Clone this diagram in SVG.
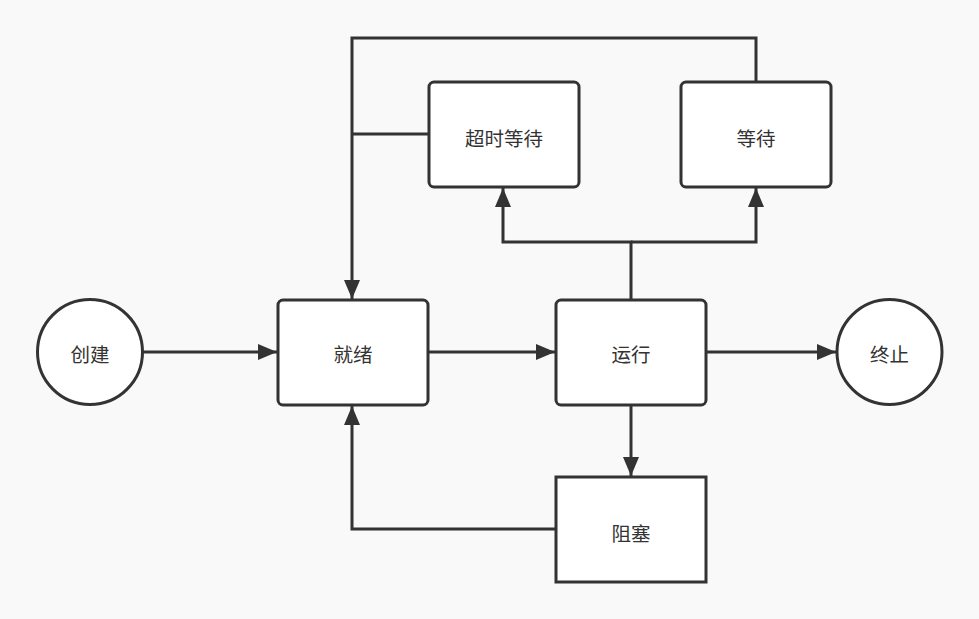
<svg xmlns="http://www.w3.org/2000/svg" width="979" height="619" viewBox="0 0 979 619">
<style>
.node{fill:#ffffff;stroke:#333333;stroke-width:3}
.lbl{font-family:"Noto Sans CJK SC","Noto Sans",sans-serif;font-size:19.5px;fill:#333333;text-anchor:middle;dominant-baseline:central}
.edge{fill:none;stroke:#333333;stroke-width:3}
</style>
<defs>
<marker id="arr" markerUnits="userSpaceOnUse" markerWidth="20" markerHeight="16" refX="19" refY="8" orient="auto" viewBox="0 0 20 16">
<path d="M0,0 L19,8 L0,16 Z" fill="#333333"/>
</marker>
</defs>
<rect width="979" height="619" fill="#f9f9f9"/>
<g id="connectors">
<path class="edge" d="M143,352 H277" marker-end="url(#arr)"/>
<path class="edge" d="M428,352 H555" marker-end="url(#arr)"/>
<path class="edge" d="M706,352 H836" marker-end="url(#arr)"/>
<path class="edge" d="M631,405 V476" marker-end="url(#arr)"/>
<path class="edge" d="M556,529 H352 V406" marker-end="url(#arr)"/>
<path class="edge" d="M631,300 V242 H503 V188" marker-end="url(#arr)"/>
<path class="edge" d="M631,242 H756 V188" marker-end="url(#arr)"/>
<path class="edge" d="M756,82 V38 H352 V299" marker-end="url(#arr)"/>
<path class="edge" d="M429,134 H352"/>
</g>
<g id="create"><circle class="node" cx="90" cy="352" r="52.5"/><text class="lbl" x="90" y="353">创建</text></g>
<g id="ready"><rect class="node" x="278" y="300" width="150" height="105" rx="5"/><text class="lbl" x="353" y="353">就绪</text></g>
<g id="running"><rect class="node" x="556" y="300" width="150" height="105" rx="5"/><text class="lbl" x="631" y="353">运行</text></g>
<g id="terminated"><circle class="node" cx="889.5" cy="352" r="52.5"/><text class="lbl" x="889.5" y="353">终止</text></g>
<g id="timed-waiting"><rect class="node" x="429" y="82" width="150" height="105" rx="5"/><text class="lbl" x="504" y="137">超时等待</text></g>
<g id="waiting"><rect class="node" x="681" y="82" width="150" height="105" rx="5"/><text class="lbl" x="756" y="137">等待</text></g>
<g id="blocked"><rect class="node" x="556" y="477" width="150" height="105"/><text class="lbl" x="631" y="532">阻塞</text></g>
</svg>
